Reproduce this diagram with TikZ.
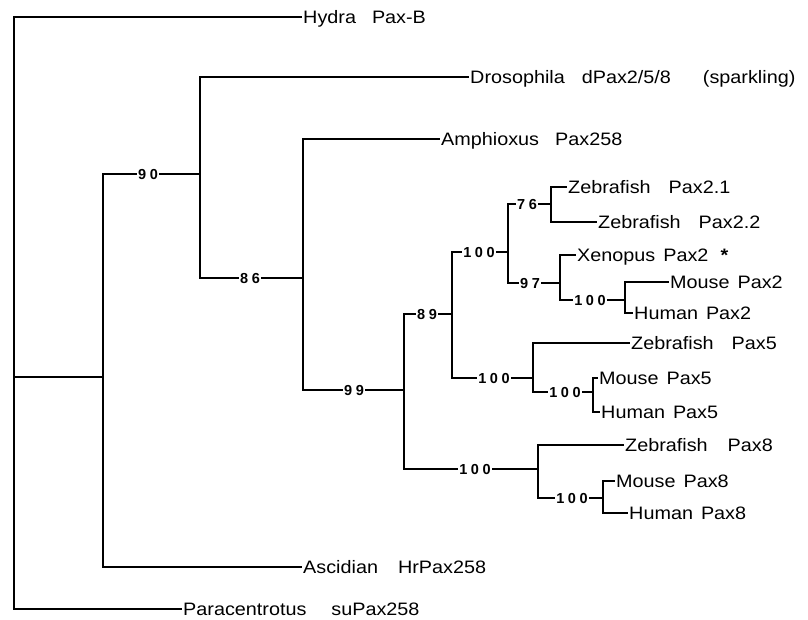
\documentclass[tikz,border=0pt]{standalone}
\usepackage{fontspec}
\setmainfont{Liberation Sans}[FakeStretch=1.1]
\newfontfamily\bootfont{Liberation Sans}
\newcommand{\dsp}{\hspace{3.6pt}}
\newcommand{\gp}[1]{\hspace{#1pt}}
\begin{document}
\begin{tikzpicture}[x=1pt,y=-1pt,
  branch/.style={line width=1.5pt},
  leaf/.style={anchor=west, inner xsep=1.5pt, inner ysep=0pt, text height=12.9pt, text depth=0pt,
    font=\fontsize{18}{20}\selectfont},
  boot/.style={fill=white, inner xsep=1pt, inner ysep=1pt, text height=10.4pt, text depth=0pt,
    font=\bootfont\bfseries\fontsize{14.5}{15}\selectfont}]
\useasboundingbox (0,0) rectangle (808,619);

% leaves
\node[leaf] (hydra) at (301.5,17) {Hydra\gp{16}Pax-B};
\node[leaf] (dros) at (468.5,77) {Drosophila\gp{17}dPax2/5/8\gp{32}(sparkling)};
\node[leaf] (amph) at (439.5,139) {Amphioxus\gp{16}Pax258};
\node[leaf] (z21) at (566.5,187) {Zebrafish\gp{18}Pax2.1};
\node[leaf] (z22) at (596.5,222) {Zebrafish\gp{18}Pax2.2};
\node[leaf] (xen) at (575.5,255) {Xenopus\gp{8}Pax2\gp{12}\textbf{*}};
\node[leaf] (mp2) at (668.5,282) {Mouse\gp{8}Pax2};
\node[leaf] (hp2) at (632.5,313) {Human\gp{8}Pax2};
\node[leaf] (z5) at (629.5,343) {Zebrafish\gp{18}Pax5};
\node[leaf] (mp5) at (597.5,378) {Mouse\gp{8}Pax5};
\node[leaf] (hp5) at (599.5,412) {Human\gp{8}Pax5};
\node[leaf] (z8) at (623.5,445) {Zebrafish\gp{20}Pax8};
\node[leaf] (mp8) at (614.5,481) {Mouse\gp{8}Pax8};
\node[leaf] (hp8) at (627.5,513) {Human\gp{8}Pax8};
\node[leaf] (asc) at (301.5,567) {Ascidian\gp{20}HrPax258};
\node[leaf] (para) at (181.5,609) {Paracentrotus\gp{25}suPax258};

% internal points
\coordinate (r) at (14,377);
\coordinate (n1) at (103,377);
\coordinate (n2) at (200,174);
\coordinate (n3) at (303,278);
\coordinate (n4) at (404,390);
\coordinate (n5) at (452,314);
\coordinate (n6) at (508,252);
\coordinate (n7) at (551,204);
\coordinate (n8) at (560,283);
\coordinate (n8b) at (625,300);
\coordinate (n9) at (533,378);
\coordinate (n10) at (593,392);
\coordinate (n11) at (538,469);
\coordinate (n12) at (603,498);

% branches
\draw[branch] (hydra.west) -| (r) |- (para.west);
\draw[branch] (r) -- (n1);
\draw[branch] (n2) -| (n1) |- (asc.west);
\draw[branch] (dros.west) -| (n2) |- (n3);
\draw[branch] (amph.west) -| (n3) |- (n4);
\draw[branch] (n5) -| (n4) |- (n11);
\draw[branch] (n6) -| (n5) |- (n9);
\draw[branch] (n7) -| (n6) |- (n8);
\draw[branch] (z21.west) -| (n7) |- (z22.west);
\draw[branch] (xen.west) -| (n8) |- (n8b);
\draw[branch] (mp2.west) -| (n8b) |- (hp2.west);
\draw[branch] (z5.west) -| (n9) |- (n10);
\draw[branch] (mp5.west) -| (n10) |- (hp5.west);
\draw[branch] (z8.west) -| (n11) |- (n12);
\draw[branch] (mp8.west) -| (n12) |- (hp8.west);

% bootstrap values
\node[boot] (b90) at (148,174) {9\dsp0};
\node[boot] (b86) at (250,278) {8\dsp6};
\node[boot] (b99) at (354,390) {9\dsp9};
\node[boot] (b89) at (427,314) {8\dsp9};
\node[boot] (b100a) at (479,252) {1\dsp0\dsp0};
\node[boot] (b76) at (527,204) {7\dsp6};
\node[boot] (b97) at (530,283) {9\dsp7};
\node[boot] (b100b) at (590,300) {1\dsp0\dsp0};
\node[boot] (b100c) at (494,378) {1\dsp0\dsp0};
\node[boot] (b100d) at (565,392) {1\dsp0\dsp0};
\node[boot] (b100e) at (475,469) {1\dsp0\dsp0};
\node[boot] (b100f) at (572,498) {1\dsp0\dsp0};
\end{tikzpicture}
\end{document}
